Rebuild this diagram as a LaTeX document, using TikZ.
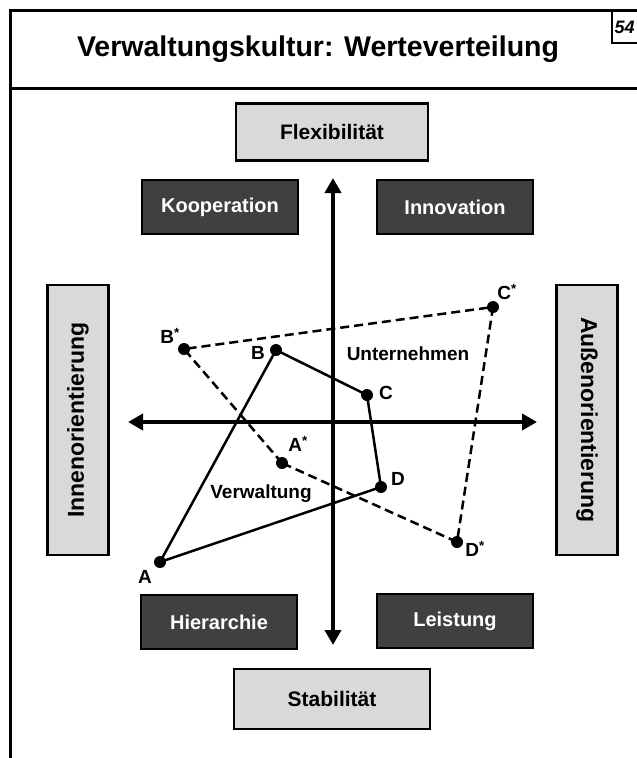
\documentclass[tikz,border=0pt]{standalone}
\usepackage{fontspec}
\setmainfont{Liberation Sans}
\usetikzlibrary{arrows.meta}
\definecolor{lightbox}{HTML}{D9D9D9}
\definecolor{darkbox}{HTML}{404040}
\begin{document}
\begin{tikzpicture}[x=1pt,y=-1pt,
  light/.style={draw=black, line width=2.5pt, fill=lightbox, font=\fontsize{21}{24}\selectfont\bfseries, inner sep=0pt},
  side/.style={light, font=\fontsize{23}{26}\selectfont\bfseries, minimum width=270pt, minimum height=61pt},
  dark/.style={draw=black, line width=2pt, fill=darkbox, text=white, font=\fontsize{20}{23}\selectfont\bfseries, inner sep=0pt, minimum width=156pt, minimum height=54pt},
  dot/.style={circle, fill=black, inner sep=0pt, minimum size=12pt},
  lbl/.style={font=\fontsize{19}{22}\selectfont\bfseries, inner sep=0pt},
  axis/.style={line width=4pt, {Triangle[length=15pt,width=16pt]}-{Triangle[length=15pt,width=16pt]}},
  solidpoly/.style={line width=2.5pt, line join=round},
  dashpoly/.style={line width=2.5pt, dash pattern=on 9pt off 5pt}
]
\clip (0,0) rectangle (637,758);
\fill[white] (0,0) rectangle (637,758);
% frame
\draw[line width=3pt] (10,760) -- (10,10) -- (640,10);
\draw[line width=3pt] (10,88) -- (640,88);
\draw[line width=2pt] (612,10) rectangle (645,43);
\node[anchor=west, inner sep=0pt, font=\fontsize{18}{20}\selectfont\bfseries\itshape] (num) at (614.5,27) {54};
\node[font=\fontsize{28.5}{32}\selectfont\bfseries] (title) at (318,49) {Verwaltungskultur: Werteverteilung};
% boxes
\node[light, minimum width=192pt, minimum height=57pt] (flex) at (332,132) {Flexibilität};
\node[light, minimum width=196pt, minimum height=60pt] (stab) at (332,699) {Stabilität};
\node[side, rotate=90] (innen) at (78,420) {Innenorientierung};
\node[side, rotate=-90] (aussen) at (587,420) {Außenorientierung};
\node[dark] (koop) at (220,207) {Kooperation};
\node[dark] (innov) at (455,207) {Innovation};
\node[dark] (hier) at (219,622) {Hierarchie};
\node[dark] (leist) at (455,621) {Leistung};
% axes
\coordinate (vtop) at (333,178);
\coordinate (vbot) at (333,645);
\coordinate (hl) at (128,422);
\coordinate (hr) at (537,422);
\draw[axis] (vbot) -- (vtop);
\draw[axis] (hl) -- (hr);
% points
\coordinate (A) at (160,562);
\coordinate (B) at (276,350);
\coordinate (C) at (367,395);
\coordinate (D) at (381,487);
\coordinate (As) at (282,463);
\coordinate (Bs) at (184,349);
\coordinate (Cs) at (493,307);
\coordinate (Ds) at (457,542);
\draw[solidpoly] (A) -- (B) -- (C) -- (D) -- cycle;
\draw[dashpoly] (As) -- (Bs) -- (Cs) -- (Ds) -- cycle;
\foreach \p in {A,B,C,D,As,Bs,Cs,Ds} \node[dot] (d\p) at (\p) {};
\node[lbl] (lA) at (145,577) {A};
\node[lbl] (lB) at (258,353) {B};
\node[lbl] (lC) at (386,393) {C};
\node[lbl] (lD) at (398,479) {D};
\node[lbl] (lAs) at (298,444) {A\textsuperscript{*}};
\node[lbl] (lBs) at (170,336) {B\textsuperscript{*}};
\node[lbl] (lCs) at (507,292) {C\textsuperscript{*}};
\node[lbl] (lDs) at (475,549) {D\textsuperscript{*}};
\node[lbl] (unt) at (408,354) {Unternehmen};
\node[lbl] (verw) at (261,494) {Verwaltung};
\end{tikzpicture}
\end{document}
